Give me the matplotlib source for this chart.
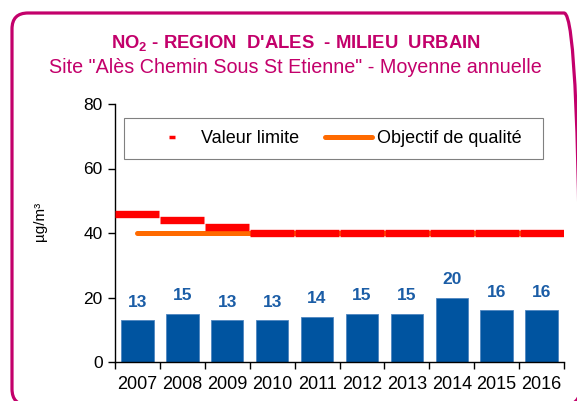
import matplotlib
matplotlib.use("Agg")
from matplotlib import pyplot as plt
from matplotlib.lines import Line2D
from matplotlib.patches import FancyBboxPatch, Rectangle

# Data
years = ['2007', '2008', '2009', '2010', '2011', '2012', '2013', '2014', '2015', '2016']
moyenne = [13, 15, 13, 13, 14, 15, 15, 20, 16, 16]
valeur_limite = [46, 44, 42, 40, 40, 40, 40, 40, 40, 40]
objectif = [40, 40, 40, 40, 40, 40, 40, 40, 40, 40]

magenta = '#C3006B'
bar_color = '#0054A0'
label_color = '#1B5DA6'

plt.rcParams['font.family'] = 'Liberation Sans'
plt.rcParams['mathtext.fontset'] = 'custom'
plt.rcParams['mathtext.rm'] = 'Liberation Sans'
plt.rcParams['mathtext.bf'] = 'Liberation Sans:bold'

fig = plt.figure(figsize=(5.77, 4.01), dpi=100)
ax = fig.add_axes([115 / 577, 1 - 362 / 401, 449 / 577, 258 / 401])

x = list(range(len(years)))

# Objective line (behind the limit dashes)
ax.plot(x, objectif, color='#FF6A00', lw=3.6, solid_capstyle='round', zorder=2)

# Limit value dashes, one per year
ax.hlines(valeur_limite, [i - 0.49 for i in x], [i + 0.49 for i in x],
          colors='#FF0000', lw=5.3, zorder=3)

# Bars
ax.bar(x, moyenne, width=0.72, color=bar_color, edgecolor='#4F86C0',
       linewidth=0.6, zorder=2)
for xi, v in zip(x, moyenne):
    ax.annotate(str(v), (xi, v), xytext=(0, 13), textcoords='offset points',
                ha='center', va='center', fontsize=12.5, fontweight='bold',
                color=label_color)

# Axes
ax.set_xlim(-0.5, len(years) - 0.5)
ax.set_ylim(0, 80)
ax.set_yticks([0, 20, 40, 60, 80])
ax.set_xticks(x)
ax.set_xticklabels(years)
ax.set_xticks([i - 0.5 for i in range(len(years) + 1)], minor=True)
ax.tick_params(axis='x', which='major', length=0, labelsize=13, pad=10)
ax.tick_params(axis='x', which='minor', length=5, width=1, direction='out')
ax.tick_params(axis='y', length=5, width=1, direction='out', labelsize=12.5, pad=4)
for s in ('top', 'right'):
    ax.spines[s].set_visible(False)
ax.spines['left'].set_linewidth(1)
ax.spines['bottom'].set_linewidth(1)

# Legend box
ax.add_patch(Rectangle((0.02, 0.787), 0.933, 0.159, transform=ax.transAxes,
                       facecolor='white', edgecolor='#808080', lw=0.8, zorder=4))
handles = [
    Line2D([], [], color='#FF0000', marker='_', markersize=4.5, mew=2.5, linestyle='none'),
    Line2D([], [], color='#FF6A00', lw=3.6, solid_capstyle='round'),
]
leg = ax.legend(handles, ['Valeur limite', 'Objectif de qualité'], ncol=2,
                loc='center left', bbox_to_anchor=((149 - 115) / 449, 0.866),
                frameon=False, fontsize=13, handlelength=2.6, handletextpad=0.3,
                columnspacing=1.4, borderpad=0, borderaxespad=0)
leg.set_zorder(5)

# Y label
fig.text(40 / 577, 1 - 221 / 401, 'µg/m³', rotation=90, ha='center',
         va='center', fontsize=11)

# Titles
fig.text(296 / 577, 1 - 48 / 401, r"NO$_\mathbf{2}$ - REGION  D'ALES  - MILIEU  URBAIN",
         ha='center', va='baseline', fontsize=13.3, fontweight='bold', color=magenta)
fig.text(295 / 577, 1 - 73 / 401, 'Site "Alès Chemin Sous St Etienne" - Moyenne annuelle',
         ha='center', va='baseline', fontsize=14.2, color=magenta)

# Rounded frame, partly running off the right and bottom edges
frame = FancyBboxPatch((12, -4), 568, 392, boxstyle='round,pad=0,rounding_size=16',
                       transform=None, facecolor='none', edgecolor=magenta, lw=2.3)
fig.patches.append(frame)

fig.savefig('out.png', dpi=100)
